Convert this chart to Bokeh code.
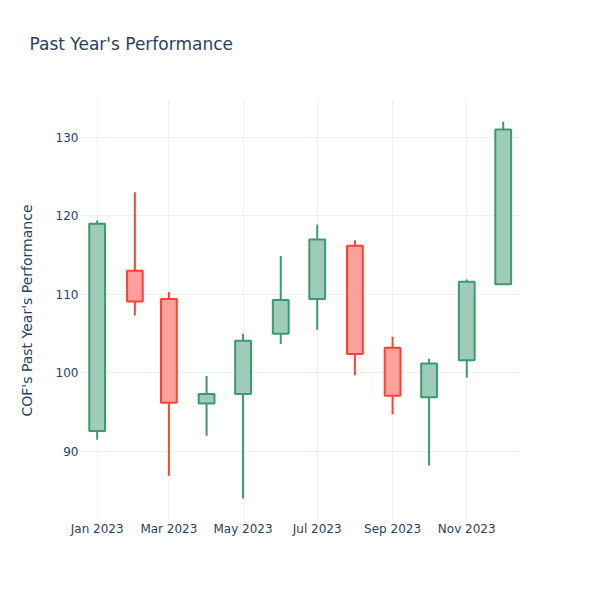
import pandas as pd
from bokeh.plotting import figure
from bokeh.models import ColumnDataSource, FixedTicker, DatetimeTickFormatter, Range1d, Title
from bokeh.embed import file_html
from bokeh.resources import INLINE

dates = ["2023-01-01", "2023-02-01", "2023-03-01", "2023-04-01", "2023-05-01", "2023-06-01",
         "2023-07-01", "2023-08-01", "2023-09-01", "2023-10-01", "2023-11-01", "2023-12-01"]
opens = [92.6, 113.0, 109.4, 96.1, 97.3, 105.0, 109.4, 116.2, 103.2, 96.9, 101.6, 111.3]
closes = [119.0, 109.1, 96.2, 97.3, 104.1, 109.3, 117.0, 102.4, 97.1, 101.2, 111.6, 131.0]
highs = [119.4, 123.0, 110.3, 99.6, 105.0, 114.9, 118.9, 116.9, 104.6, 101.8, 111.9, 132.0]
lows = [91.5, 107.3, 86.9, 92.0, 84.0, 103.7, 105.5, 99.7, 94.7, 88.2, 99.4, 111.3]
x_ticks = ["2023-01-01", "2023-03-01", "2023-05-01", "2023-07-01", "2023-09-01", "2023-11-01"]
y_ticks = [90, 100, 110, 120, 130]
title_text = "Past Year's Performance"
y_label = "COF's Past Year's Performance"

INC_LINE, INC_FILL = "#3D9970", "#9ECCB8"
DEC_LINE, DEC_FILL = "#FF4136", "#FFA09B"
FONT = "DejaVu Sans"
TXT = "#2a3f5f"

dt = pd.to_datetime(dates)
inc = [c >= o for o, c in zip(opens, closes)]
src = ColumnDataSource(dict(
    x=dt, open=opens, close=closes, high=highs, low=lows,
    top=[max(o, c) for o, c in zip(opens, closes)],
    bottom=[min(o, c) for o, c in zip(opens, closes)],
    line=[INC_LINE if i else DEC_LINE for i in inc],
    fill=[INC_FILL if i else DEC_FILL for i in inc],
))

p = figure(width=584, height=584, x_axis_type="datetime", output_backend="svg",
           toolbar_location=None, tools="",
           x_range=Range1d(pd.Timestamp("2022-12-18 07:00"), pd.Timestamp("2023-12-15 05:00")),
           y_range=Range1d(81.2, 134.7),
           min_border_left=80, min_border_right=64, min_border_top=100, min_border_bottom=64)

p.title.text = ""
p.add_layout(Title(text=" ", text_font_size="1px", standoff=44), "above")
p.add_layout(Title(text=title_text, text_font=FONT, text_font_size="17px",
                   text_font_style="normal", text_color=TXT, align="left",
                   offset=-51, standoff=0), "above")

p.outline_line_color = None
p.background_fill_color = "white"
p.border_fill_color = "white"

day = 86400000
p.segment(x0="x", y0="low", x1="x", y1="high", line_color="line", line_width=2, source=src)
p.vbar(x="x", width=13 * day, top="top", bottom="bottom", fill_color="fill",
       line_color="line", line_width=2, source=src)

p.xaxis.ticker = FixedTicker(ticks=[pd.Timestamp(t).value // 10**6 for t in x_ticks])
p.xaxis.formatter = DatetimeTickFormatter(months="%b %Y", days="%b %Y", years="%b %Y")
p.yaxis.ticker = FixedTicker(ticks=y_ticks)
p.yaxis.axis_label = y_label

for ax in (p.xaxis[0], p.yaxis[0]):
    ax.axis_line_color = None
    ax.major_tick_line_color = None
    ax.minor_tick_line_color = None
    ax.major_tick_out = 0
    ax.major_tick_in = 0
    ax.major_label_text_font = FONT
    ax.major_label_text_font_size = "12px"
    ax.major_label_text_color = TXT
    ax.axis_label_text_font = FONT
    ax.axis_label_text_font_size = "14px"
    ax.axis_label_text_font_style = "normal"
    ax.axis_label_text_color = TXT
p.xaxis.major_label_standoff = 1
p.yaxis.major_label_standoff = 2
p.yaxis.axis_label_standoff = 18

p.xgrid.grid_line_color = "#EBF0F8"
p.ygrid.grid_line_color = "#EBF0F8"
p.xgrid.grid_line_width = 1
p.ygrid.grid_line_width = 1

open("out.html", "w").write(file_html(p, INLINE))
